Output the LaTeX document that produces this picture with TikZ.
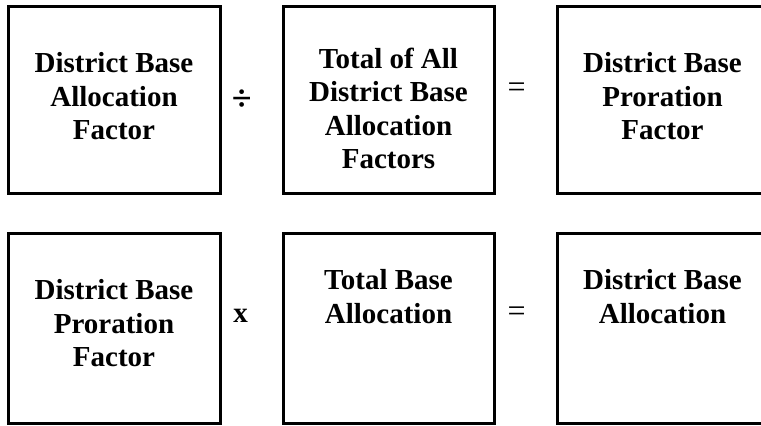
\documentclass[tikz,border=0pt]{standalone}
\usepackage{fontspec}
\setmainfont{Liberation Serif}
\begin{document}
\begin{tikzpicture}[x=1pt,y=-1pt,
  box/.style={draw=black,line width=3pt,inner sep=0pt},
  label/.style={anchor=north,align=center,inner sep=0pt,font=\fontsize{29}{33.5}\selectfont\bfseries},
  op/.style={inner sep=0pt,font=\fontsize{29}{33}\selectfont\bfseries},
  opthin/.style={inner sep=0pt,font=\fontsize{29}{33}\selectfont}]
\useasboundingbox (0,0) rectangle (761,426);
\clip (0,0) rectangle (761,426);
% top row
\node[box,minimum width=212pt,minimum height=187pt] (b1) at (114,99.5) {};
\node[box,minimum width=211pt,minimum height=187pt] (b2) at (388.5,99.5) {};
\node[box,minimum width=211pt,minimum height=187pt] (b3) at (662.5,99.5) {};
\node[label] (t1) at (114,52.5) {District Base\\Allocation\\Factor};
\node[label] (t2) at (388.5,47.5) {Total of All\\District Base\\Allocation\\Factors};
\node[label] (t3) at (662.5,52.5) {District Base\\Proration\\Factor};
\node[op,font=\fontsize{36}{40}\selectfont\bfseries] (div) at (241.7,100) {÷};
\node[opthin,font=\fontsize{32}{36}\selectfont] (eq1) at (516.7,90) {=};
% bottom row
\node[box,minimum width=212pt,minimum height=190pt] (c1) at (114,328) {};
\node[box,minimum width=211pt,minimum height=190pt] (c2) at (388.5,328) {};
\node[box,minimum width=211pt,minimum height=190pt] (c3) at (662.5,328) {};
\node[label] (u1) at (114,279.5) {District Base\\Proration\\Factor};
\node[label] (u2) at (388.5,269.5) {Total Base\\Allocation};
\node[label] (u3) at (662.5,269.5) {District Base\\Allocation};
\node[op] (mul) at (240.7,316) {x};
\node[opthin,font=\fontsize{32}{36}\selectfont] (eq2) at (516.7,314) {=};
\end{tikzpicture}
\end{document}
